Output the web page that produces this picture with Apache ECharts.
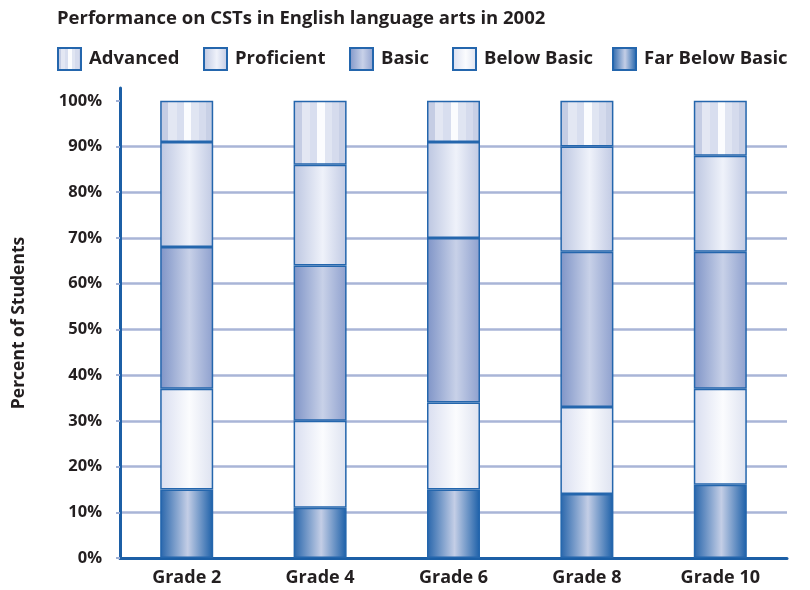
<!DOCTYPE html>
<html>
<head>
<meta charset="utf-8">
<script src="https://cdn.jsdelivr.net/npm/echarts@6/dist/echarts.min.js"></script>
<style>
    html, body { margin: 0; padding: 0; background: #fff; }
    #chart { width: 810px; height: 590px; }
</style>
</head>
<body>
<div id="chart"></div>
<script>
// grades on the x axis
var grades = ['Grade 2', 'Grade 4', 'Grade 6', 'Grade 8', 'Grade 10']
// percent of students in each band
var farBelowBasic = [15, 11, 15, 14, 16]
var belowBasic = [22, 19, 19, 19, 21]
var basic = [31, 34, 36, 34, 30]
var proficient = [23, 22, 21, 23, 21]
var advanced = [9, 14, 9, 10, 12]
// y axis ticks
var yTicks = [0, 10, 20, 30, 40, 50, 60, 70, 80, 90, 100]

var fontFamily = '"Open Sans", "DejaVu Sans", sans-serif'
var textColor = '#231f20'
var edge = '#2466ad'

// horizontal gradient helper, x from 0 to 1
function hGrad (stops) {
    return new echarts.graphic.LinearGradient(0, 0, 1, 0, stops.map(function (s) {
        return { offset: s[0], color: s[1] }
    }))
}

// striped fill for the top band
var stripeCols = ['#c5cde4', '#e3e7f3', '#d8deef', '#fbfcfe', '#e0e5f2', '#d5dbed', '#c8d0e6']
var stripeStops = []
var cuts = [0, 0.15, 0.31, 0.45, 0.59, 0.73, 0.86, 1]
for (var i = 0; i < stripeCols.length; i++) {
    stripeStops.push([cuts[i], stripeCols[i]])
    stripeStops.push([cuts[i + 1], stripeCols[i]])
}

var fills = {
    'Far Below Basic': hGrad([[0, '#2765ab'], [0.52, '#c4cee6'], [1, '#1b5fa8']]),
    'Below Basic': hGrad([[0, '#d9def0'], [0.55, '#fbfcfe'], [1, '#dde2f0']]),
    'Basic': hGrad([[0, '#7f94c7'], [0.55, '#c8d1e8'], [1, '#8ea0ce']]),
    'Proficient': hGrad([[0, '#bcc6e1'], [0.55, '#eff2fa'], [1, '#c0c9e3']]),
    'Advanced': hGrad(stripeStops)
}

function makeSeries (name, data) {
    return {
        name: name,
        type: 'bar',
        stack: 'total',
        barWidth: 53,
        data: data,
        itemStyle: {
            color: fills[name],
            borderColor: edge,
            borderWidth: 1.5
        },
        emphasis: { disabled: true }
    }
}

// one legend per item so each one sits where the picture has it
var legendNames = ['Advanced', 'Proficient', 'Basic', 'Below Basic', 'Far Below Basic']
var legendLeft = [57, 203, 349, 452, 612]
var legends = legendNames.map(function (n, idx) {
    return {
        data: [n],
        left: legendLeft[idx],
        top: 47,
        padding: 0,
        icon: 'rect',
        itemWidth: 23,
        itemHeight: 22,
        selectedMode: false,
        textStyle: {
            fontFamily: fontFamily,
            fontWeight: 'bold',
            fontSize: 18.5,
            color: textColor,
            padding: [0, 0, 0, 3]
        }
    }
})

var myChart = echarts.init(document.getElementById('chart'))
var option = {
    animation: false,
    title: {
        text: 'Performance on CSTs in English language arts in 2002',
        left: 52,
        top: 4,
        textStyle: {
            fontFamily: fontFamily,
            fontWeight: 'bold',
            fontSize: 18.5,
            color: textColor
        }
    },
    legend: legends,
    grid: {
        left: 120,
        right: 23,
        top: 88,
        bottom: 32
    },
    xAxis: {
        type: 'category',
        data: grades,
        axisTick: { show: false },
        axisLine: {
            lineStyle: { color: '#1c5fa6', width: 3 }
        },
        axisLabel: {
            margin: 11,
            fontFamily: fontFamily,
            fontWeight: 'bold',
            fontSize: 18,
            color: textColor
        }
    },
    yAxis: {
        type: 'value',
        min: 0,
        max: 102.8,
        interval: 10,
        name: 'Percent of Students',
        nameLocation: 'middle',
        nameGap: 92,
        nameTextStyle: {
            fontFamily: fontFamily,
            fontWeight: 'bold',
            fontSize: 17.5,
            color: textColor
        },
        axisLine: {
            show: true,
            lineStyle: { color: '#1c5fa6', width: 3 }
        },
        axisTick: {
            show: true,
            length: 4,
            customValues: yTicks,
            lineStyle: { color: '#9fb0d6', width: 2 }
        },
        axisLabel: {
            margin: 18,
            customValues: yTicks,
            formatter: '{value}%',
            fontFamily: fontFamily,
            fontWeight: 'bold',
            fontSize: 16.5,
            color: textColor
        },
        splitLine: {
            showMaxLine: false,
            lineStyle: { color: '#a9b5d7', width: 2.5 }
        }
    },
    series: [
        makeSeries('Far Below Basic', farBelowBasic),
        makeSeries('Below Basic', belowBasic),
        makeSeries('Basic', basic),
        makeSeries('Proficient', proficient),
        makeSeries('Advanced', advanced)
    ]
}
myChart.setOption(option)
</script>
</body>
</html>
